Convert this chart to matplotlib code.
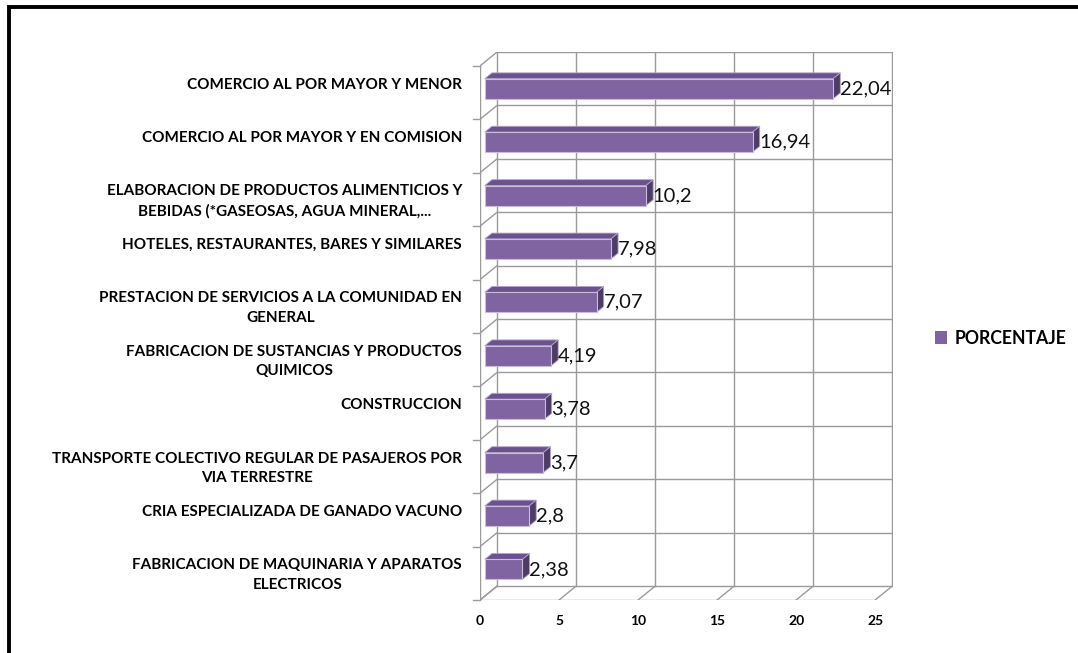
import matplotlib
matplotlib.use("Agg")
import matplotlib.pyplot as plt
from matplotlib.patches import Rectangle, Polygon, Patch

plt.rcParams["font.family"] = ["Lato", "DejaVu Sans"]

# data, top to bottom as in the chart
categories = [
    "COMERCIO AL POR MAYOR Y MENOR",
    "COMERCIO AL POR MAYOR Y EN COMISION",
    "ELABORACION DE PRODUCTOS ALIMENTICIOS Y\nBEBIDAS (*GASEOSAS, AGUA MINERAL,...",
    "HOTELES, RESTAURANTES, BARES Y SIMILARES",
    "PRESTACION DE SERVICIOS A LA COMUNIDAD EN\nGENERAL",
    "FABRICACION DE SUSTANCIAS Y PRODUCTOS\nQUIMICOS",
    "CONSTRUCCION",
    "TRANSPORTE COLECTIVO REGULAR DE PASAJEROS POR\nVIA TERRESTRE",
    "CRIA ESPECIALIZADA DE GANADO VACUNO",
    "FABRICACION DE MAQUINARIA Y APARATOS\nELECTRICOS",
]
values = [22.04, 16.94, 10.2, 7.98, 7.07, 4.19, 3.78, 3.7, 2.8, 2.38]
x_ticks = [0, 5, 10, 15, 20, 25]
series_name = "PORCENTAJE"

# 3d look
dx, dy = 1.08, 0.26      # depth offset of the back wall (data units)
f0, fd = 0.28, 0.42      # bar front position / bar depth as fraction of depth
bar_h = 0.375
grid_c = "#9a9a9a"
front_c, top_c, side_c = "#8064A2", "#6A5190", "#4E3C66"

fig = plt.figure(figsize=(10.78, 6.53), dpi=100)
ax = fig.add_axes([480 / 1078, 53 / 653, 413 / 1078, 548 / 653])
n = len(categories)
xmax = x_ticks[-1]
ax.set_xlim(0, xmax + dx + 0.05)
ax.set_ylim(-0.5, n - 0.5 + dy)
for s in ax.spines.values():
    s.set_visible(False)

# walls and floor
lo, hi = -0.5, n - 0.5
for xt in x_ticks:
    ax.plot([xt + dx, xt + dx], [lo + dy, hi + dy], color=grid_c, lw=1, zorder=1)
    ax.plot([xt, xt + dx], [lo, lo + dy], color=grid_c, lw=1, zorder=1)
for k in range(n + 1):
    yb = lo + k
    ax.plot([dx, xmax + dx], [yb + dy, yb + dy], color=grid_c, lw=1, zorder=1)
    ax.plot([0, dx], [yb, yb + dy], color=grid_c, lw=1, zorder=1)
    ax.plot([-0.45, 0], [yb, yb], color=grid_c, lw=1, zorder=1, clip_on=False)
ax.plot([0, 0], [lo, hi], color=grid_c, lw=1, zorder=1)
ax.plot([0, xmax], [lo, lo], color=grid_c, lw=1, zorder=1)

# bars
for i, (cat, v) in enumerate(zip(categories, values)):
    yc = n - 1 - i
    x0 = f0 * dx
    y0 = yc - bar_h / 2 + f0 * dy
    ox, oy = fd * dx, fd * dy
    ax.add_patch(Polygon([(x0, y0 + bar_h), (x0 + v, y0 + bar_h),
                          (x0 + v + ox, y0 + bar_h + oy), (x0 + ox, y0 + bar_h + oy)],
                         closed=True, fc=top_c, ec="#b3a4c8", lw=0.6, zorder=3))
    ax.add_patch(Polygon([(x0 + v, y0), (x0 + v + ox, y0 + oy),
                          (x0 + v + ox, y0 + bar_h + oy), (x0 + v, y0 + bar_h)],
                         closed=True, fc=side_c, ec="#b3a4c8", lw=0.6, zorder=3))
    ax.add_patch(Rectangle((x0, y0), v, bar_h, fc=front_c, ec="#c9bddb", lw=0.8, zorder=4))
    ax.text(x0 + v + ox - 0.02, y0 + bar_h / 2, str(v).replace(".", ","),
            ha="left", va="center", fontsize=14.5, color="#111111", zorder=5)

# axis labels
ax.set_xticks(x_ticks)
ax.set_xticklabels([str(t) for t in x_ticks], fontsize=10, fontweight="bold")
ax.tick_params(axis="x", length=0, pad=11)
ypos = [n - 1 - i + 0.28 for i in range(n)]
ax.set_yticks(ypos)
ax.set_yticklabels(categories, fontsize=11, fontweight="bold",
                   multialignment="center", linespacing=1.5)
for lab in ax.get_yticklabels():
    lab.set_va("top")
ax.tick_params(axis="y", length=0, pad=13)

fig.legend(handles=[Patch(fc=front_c, ec="none")], labels=[series_name],
           loc="center left", bbox_to_anchor=(926 / 1078, 1 - 338 / 653),
           frameon=False, handlelength=0.7, handleheight=0.7, handletextpad=0.4,
           borderpad=0, prop={"weight": "bold", "size": 12.7})

# outer frame (only top and left edges fall inside the picture)
fig.patches.append(Rectangle((9.3 / 1078, -0.2), 1.3, 1.2 - 7 / 653, fill=False,
                             ec="black", lw=2.8, transform=fig.transFigure))

fig.savefig("out.png", dpi=100)
